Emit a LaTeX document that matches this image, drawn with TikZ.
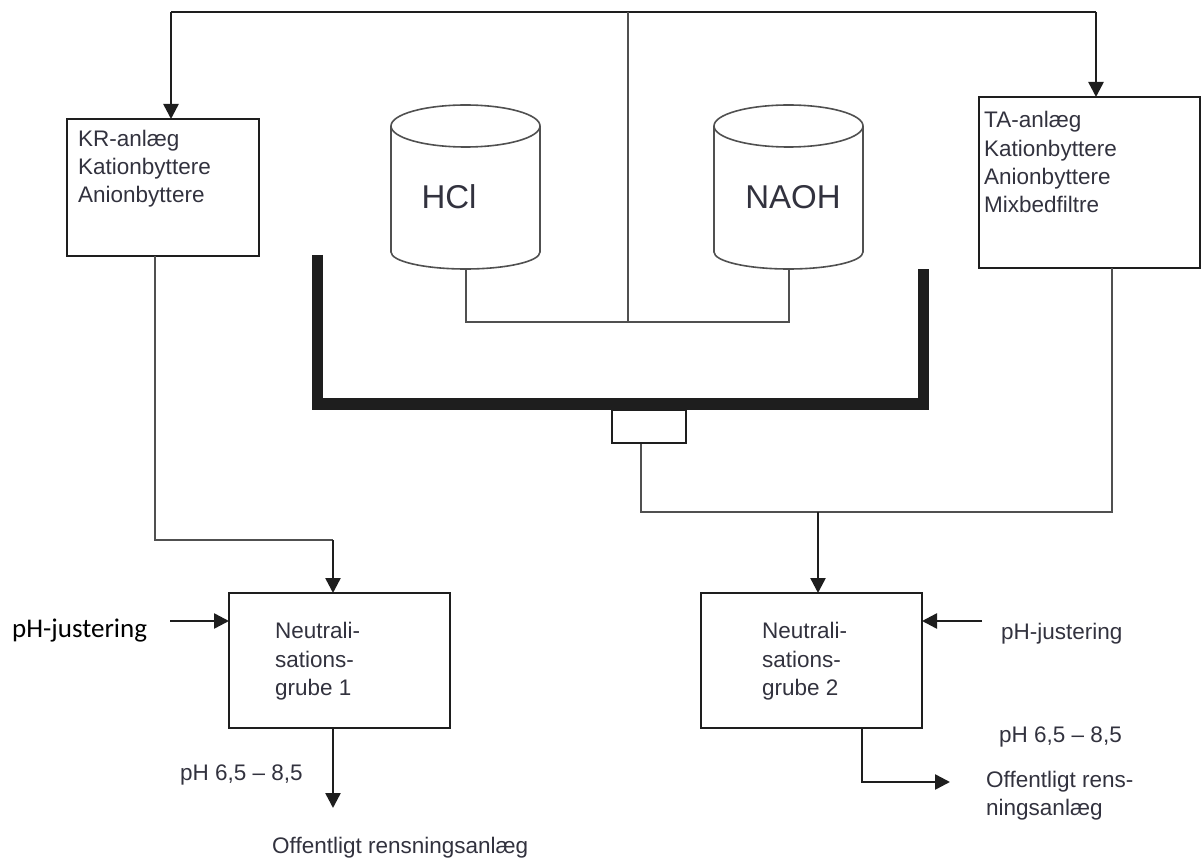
\documentclass[tikz,border=0pt]{standalone}
\usepackage{fontspec}
\setmainfont{Liberation Sans}
\newfontfamily\calib{Carlito}
\usetikzlibrary{arrows.meta}
\definecolor{txt}{RGB}{50,50,62}
\definecolor{pipe}{RGB}{80,80,80}
\definecolor{ink}{RGB}{30,30,30}
\begin{document}
\begin{tikzpicture}[x=1pt,y=-1pt,
  box/.style={draw=ink, line width=2.6pt, inner sep=0pt, outer sep=0pt},
  lbl/.style={anchor=base west, inner sep=0pt, text=txt, font=\fontsize{22.5}{28}\selectfont},
  big/.style={inner sep=0pt, text=txt, font=\fontsize{33}{38}\selectfont},
  arr/.style={draw=ink, line width=2.5pt, -{Triangle[length=15pt,width=15pt]}},
  thinline/.style={draw=pipe, line width=1.5pt},
  topline/.style={draw=ink, line width=2.2pt},
  cyl/.style={draw=pipe, line width=1.6pt},
  tray/.style={draw=ink, line width=11pt, line join=miter},
]
\useasboundingbox (0,0) rectangle (1202,858);

% boxes
\node[box, minimum width=192pt, minimum height=137pt] (kr) at (163,187.5) {};
\node[box, minimum width=221pt, minimum height=171pt] (ta) at (1089.5,182.5) {};
\node[box, minimum width=221pt, minimum height=135pt] (ng1) at (339.5,660.5) {};
\node[box, minimum width=221pt, minimum height=135pt] (ng2) at (811.5,660.5) {};

% box texts
\node[lbl] (kr1) at (78,147) {KR-anlæg};
\node[lbl] (kr2) at (78,175) {Kationbyttere};
\node[lbl] (kr3) at (78,203) {Anionbyttere};
\node[lbl] (ta1) at (984,128) {TA-anlæg};
\node[lbl] (ta2) at (984,157) {Kationbyttere};
\node[lbl] (ta3) at (984,185) {Anionbyttere};
\node[lbl] (ta4) at (984,213) {Mixbedfiltre};
\node[lbl] (n11) at (275,638) {Neutrali-};
\node[lbl] (n12) at (275,667) {sations-};
\node[lbl] (n13) at (275,695) {grube 1};
\node[lbl] (n21) at (762,638) {Neutrali-};
\node[lbl] (n22) at (762,667) {sations-};
\node[lbl] (n23) at (762,695) {grube 2};

% cylinders
\draw[cyl] (465.5,126) ellipse [x radius=74.5pt, y radius=21pt];
\draw[cyl] (391,126) -- (391,252) arc[start angle=180, end angle=360, x radius=74.5pt, y radius=17pt] -- (540,126);
\draw[cyl] (788.5,126) ellipse [x radius=74.5pt, y radius=21pt];
\draw[cyl] (714,126) -- (714,252) arc[start angle=180, end angle=360, x radius=74.5pt, y radius=17pt] -- (863,126);
\node[big] (hcl) at (449,197) {HCl};
\node[big] (naoh) at (793,197) {NAOH};
\coordinate (hclbot) at (466,269);
\coordinate (naohbot) at (789,269);

% tray and valve
\draw[tray] (317,255) -- (317,404) -- (923,404) -- (923,269);
\node[draw=ink, line width=1.9pt, inner sep=0pt, minimum width=74pt, minimum height=33pt] (valve) at (649,426.5) {};

% top distribution
\coordinate (t1) at (171,12);
\coordinate (t2) at (1096,12);
\coordinate (tm) at (628,12);
\coordinate (mj) at (628,322);
\draw[topline] (t1) -- (t2);
\draw[arr] (t1) -- (t1 |- kr.north);
\draw[arr] (t2) -- (t2 |- ta.north);
\draw[thinline] (tm) -- (mj);
\draw[thinline] (hclbot) |- (mj) -| (naohbot);

% KR to NG1
\coordinate (krp) at ([xshift=-8pt]kr.south);
\coordinate (j1) at (333,540);
\draw[thinline] (krp) |- (j1);
\draw[arr] (j1) -- (j1 |- ng1.north);

% valve + TA to NG2
\coordinate (vp) at ([xshift=-8pt]valve.south);
\coordinate (tap) at ([xshift=22.5pt]ta.south);
\coordinate (j2) at (818,512);
\draw[thinline] (vp) |- (tap |- j2) -- (tap);
\draw[arr] (j2) -- (j2 |- ng2.north);

% pH adjustment
\node[anchor=base west, inner sep=0pt, text=black, font=\calib\fontsize{27}{32}\selectfont] (phl) at (12,637) {pH-justering};
\coordinate (a1) at (170,621);
\draw[arr] (a1) -- (a1 -| ng1.west);
\node[lbl] (phr) at (1001,639) {pH-justering};
\coordinate (a2) at (982,621);
\draw[arr] (a2) -- (a2 -| ng2.east);

% outputs
\coordinate (o1) at (333,808);
\draw[arr] (o1 |- ng1.south) -- (o1);
\node[lbl] (ph1) at (180,780) {pH 6,5 – 8,5};
\node[lbl] (off1) at (272,853) {Offentligt rensningsanlæg};

\coordinate (o2) at (862,782);
\coordinate (o2e) at (950,782);
\draw[arr] (o2 |- ng2.south) -- (o2) -- (o2e);
\node[lbl] (ph2) at (999,742) {pH 6,5 – 8,5};
\node[lbl] (off2a) at (986,787) {Offentligt rens-};
\node[lbl] (off2b) at (986,815) {ningsanlæg};
\end{tikzpicture}
\end{document}
